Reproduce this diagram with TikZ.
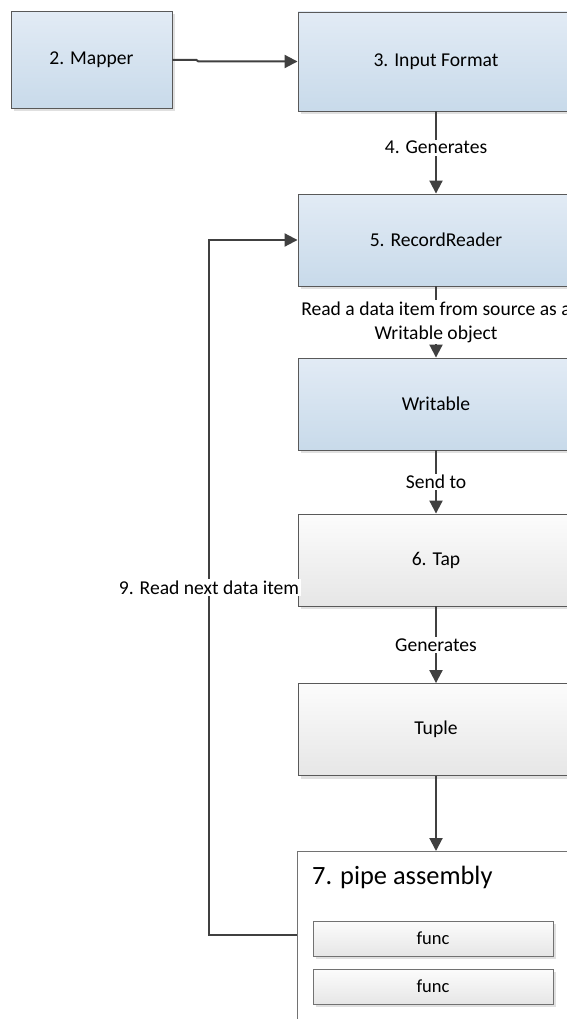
\documentclass[tikz,border=0pt]{standalone}
\usepackage{fontspec}
\setmainfont{Carlito}
\usetikzlibrary{arrows.meta,shadows}
\definecolor{lnc}{HTML}{404040}
\definecolor{bdc}{HTML}{595959}
\definecolor{bluetop}{HTML}{E2EBF5}
\definecolor{bluebot}{HTML}{C8DAEA}
\definecolor{graytop}{HTML}{FCFCFC}
\definecolor{graybot}{HTML}{E6E6E6}
\begin{document}
\begin{tikzpicture}[x=1pt,y=-1pt,
  font=\fontsize{19.6}{24}\selectfont,
  box/.style={draw=bdc, line width=0.9pt, minimum width=276pt, minimum height=92pt, inner sep=0pt,
    drop shadow={shadow xshift=3pt, shadow yshift=-3pt, fill=black!12, opacity=1}},
  bluebox/.style={box, top color=bluetop, bottom color=bluebot},
  graybox/.style={box, top color=graytop, bottom color=graybot},
  conn/.style={draw=lnc, line width=2pt, -{Triangle[length=13pt,width=13pt]}},
  lbl/.style={fill=white, inner sep=1.5pt, align=center, text=black}
]
\useasboundingbox (0,0) rectangle (567,1019);
\clip (0,0) rectangle (567,1019);
\fill[white] (0,0) rectangle (567,1019);

\node[bluebox, minimum width=161pt, minimum height=97pt] (mapper) at (91.5,60) {2. Mapper};
\node[bluebox, minimum height=99pt] (input) at (436,61.5) {3. Input Format};
\node[bluebox] (rr) at (436,240) {5. RecordReader};
\node[bluebox] (wr) at (436,404) {Writable};
\node[graybox] (tap) at (436,560) {6. Tap};
\node[graybox] (tuple) at (436,729.5) {Tuple};
\node[draw=bdc!85, line width=0.9pt, fill=white, minimum width=290pt, minimum height=220pt,
  anchor=north west, inner sep=0pt] (pipe) at (297,851) {};
\node[anchor=west, inner sep=0pt, font=\fontsize{26.4}{30}\selectfont] (ptitle) at (312,877) {7. pipe assembly};
\node[graybox, draw=bdc!85, minimum width=240pt, minimum height=35pt, font=\fontsize{18.5}{22}\selectfont] (f1) at (433,938.5) {func};
\node[graybox, draw=bdc!85, minimum width=240pt, minimum height=35pt, font=\fontsize{18.5}{22}\selectfont] (f2) at (433,986.5) {func};

\draw[conn] (mapper.east) -- ++(24,0) -- ++(2,1.5) -- (input.west);
\draw[conn] (input.south) -- node[lbl, pos=0.44] {4. Generates} (rr.north);
\draw[conn] (rr.south) -- node[lbl] {Read a data item from source as a\\Writable object} (wr.north);
\draw[conn] (wr.south) -- node[lbl] {Send to} (tap.north);
\draw[conn] (tap.south) -- node[lbl] {Generates} (tuple.north);
\draw[conn] (tuple.south) -- (tuple.south |- pipe.north);
\coordinate (fb) at (209,935);
\draw[conn] (pipe.west |- fb) -- (fb) -- node[lbl] {9. Read next data item} (fb |- rr.west) -- (rr.west);
\end{tikzpicture}
\end{document}
